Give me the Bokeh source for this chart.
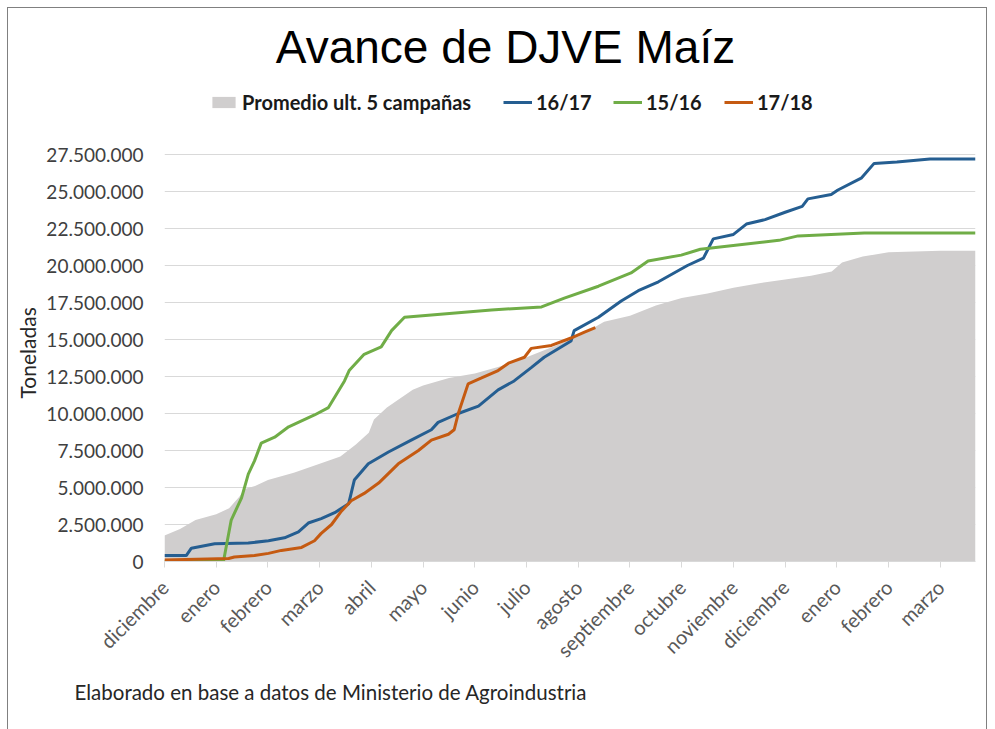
import math
from bokeh.plotting import figure
from bokeh.models import (FixedTicker, CustomJSTickFormatter, Label, Legend, LegendItem, Title)
from bokeh.embed import file_html
from bokeh.resources import INLINE

# ---------------- data ----------------
month_labels = ["diciembre", "enero", "febrero", "marzo", "abril", "mayo", "junio",
                "julio", "agosto", "septiembre", "octubre", "noviembre", "diciembre",
                "enero", "febrero", "marzo"]

# x = position in months since start of diciembre
prom_x = [0.0, 0.3, 0.6, 1.0, 1.25, 1.45, 1.55, 1.75, 2.0, 2.5, 3.0, 3.4, 3.7, 3.95,
          4.05, 4.3, 4.8, 5.0, 5.5, 6.0, 6.5, 7.0, 7.5, 8.0, 8.5, 9.0, 9.5, 10.0,
          10.5, 11.0, 11.5, 12.0, 12.5, 12.9, 13.1, 13.5, 14.0, 15.0, 15.68]
prom_y = [1.75, 2.2, 2.8, 3.2, 3.6, 4.4, 4.9, 5.1, 5.5, 6.0, 6.6, 7.1, 7.9, 8.7,
          9.6, 10.4, 11.6, 11.9, 12.4, 12.7, 13.2, 13.8, 14.5, 15.2, 16.2, 16.6, 17.3, 17.8,
          18.1, 18.5, 18.8, 19.05, 19.3, 19.6, 20.2, 20.6, 20.9, 21.0, 21.0]

c1617_x = [0.0, 0.42, 0.52, 0.97, 1.62, 2.01, 2.32, 2.59, 2.78, 3.03, 3.29, 3.56, 3.67,
           3.94, 4.33, 4.77, 5.16, 5.29, 5.68, 6.07, 6.45, 6.76, 7.09, 7.34, 7.86, 7.92,
           8.39, 8.83, 9.16, 9.55, 10.11, 10.42, 10.61, 11.0, 11.25, 11.61, 12.0, 12.33,
           12.44, 12.89, 13.02, 13.47, 13.72, 14.16, 14.8, 15.68]
c1617_y = [0.4, 0.4, 0.9, 1.2, 1.25, 1.4, 1.6, 2.0, 2.6, 2.9, 3.3, 3.9, 5.5,
           6.6, 7.4, 8.2, 8.9, 9.4, 10.0, 10.5, 11.6, 12.2, 13.1, 13.8, 14.9, 15.6,
           16.5, 17.6, 18.3, 18.9, 20.0, 20.5, 21.8, 22.1, 22.8, 23.1, 23.6, 24.0,
           24.5, 24.8, 25.1, 25.9, 26.9, 27.0, 27.2, 27.2]

c1516_x = [0.0, 1.14, 1.29, 1.49, 1.62, 1.74, 1.87, 2.13, 2.4, 2.9, 3.17, 3.29, 3.48,
           3.57, 3.86, 4.19, 4.39, 4.64, 6.32, 7.29, 7.73, 8.39, 9.02, 9.35, 9.99,
           10.36, 11.88, 12.25, 13.53, 15.68]
c1516_y = [0.0, 0.0, 2.8, 4.3, 5.9, 6.8, 8.0, 8.4, 9.1, 9.9, 10.4, 11.1, 12.2,
           12.9, 14.0, 14.5, 15.6, 16.5, 17.0, 17.2, 17.8, 18.6, 19.5, 20.3, 20.7,
           21.1, 21.7, 22.0, 22.2, 22.2]

c1718_x = [0.0, 1.24, 1.35, 1.74, 2.01, 2.26, 2.65, 2.9, 3.03, 3.23, 3.42, 3.61, 3.86,
           4.14, 4.52, 4.91, 5.16, 5.49, 5.6, 5.68, 5.87, 6.13, 6.45, 6.65, 6.96, 7.09,
           7.48, 7.86, 8.12, 8.33]
c1718_y = [0.1, 0.2, 0.3, 0.4, 0.55, 0.75, 0.95, 1.4, 1.9, 2.5, 3.4, 4.1, 4.6,
           5.3, 6.6, 7.5, 8.2, 8.6, 8.9, 10.0, 12.0, 12.4, 12.9, 13.4, 13.8, 14.4,
           14.6, 15.1, 15.5, 15.8]

M = 1_000_000
prom_y = [v * M for v in prom_y]
c1617_y = [v * M for v in c1617_y]
c1516_y = [v * M for v in c1516_y]
c1718_y = [v * M for v in c1718_y]

y_ticks = [i * 2_500_000 for i in range(12)]
y_max = 27_500_000

# ---------------- layout constants ----------------
W, H = 980, 724
FRAME_LEFT, FRAME_RIGHT_PAD = 155, 13
FRAME_H = 553                          # frame spans from canvas top down to the x axis
FRAME_BOTTOM_PAD = H - FRAME_H
TOP_GRID_PX = 146                      # pixel row (from top) of the 27.500.000 gridline
y_end = y_max * FRAME_H / (FRAME_H - TOP_GRID_PX)

FONT = "Lato"
p = figure(width=W, height=H, x_range=(0, 15.68), y_range=(0, y_end),
           output_backend="svg", toolbar_location=None, title=None,
           min_border_left=FRAME_LEFT, min_border_right=FRAME_RIGHT_PAD,
           min_border_top=0, min_border_bottom=FRAME_BOTTOM_PAD)
p.styles = {"border": "1px solid #808080", "margin": "7px 0 0 7px"}
p.outline_line_color = None
p.background_fill_color = "white"

grey = "#D0CECE"
blue = "#255E91"
green = "#70AD47"
orange = "#C55A11"

r_prom = p.varea(x=prom_x, y1=0, y2=prom_y, fill_color=grey)
r_1617 = p.line(c1617_x, c1617_y, line_color=blue, line_width=3)
r_1516 = p.line(c1516_x, c1516_y, line_color=green, line_width=3)
r_1718 = p.line(c1718_x, c1718_y, line_color=orange, line_width=3)

# axes
p.xaxis.ticker = FixedTicker(ticks=list(range(len(month_labels))))
p.xaxis.major_label_overrides = {i: lab for i, lab in enumerate(month_labels)}
p.xaxis.major_label_orientation = math.pi / 4
p.xaxis.major_label_text_font = FONT
p.xaxis.major_label_text_font_size = "20px"
p.xaxis.major_label_text_color = "#595959"
p.xaxis.major_label_standoff = 16
p.xaxis.axis_line_color = "#D9D9D9"
p.xaxis.major_tick_line_color = "#D9D9D9"
p.xaxis.major_tick_out = 6
p.xaxis.major_tick_in = 0
p.xaxis.minor_tick_line_color = None
p.xgrid.grid_line_color = None

p.yaxis.ticker = FixedTicker(ticks=y_ticks)
p.yaxis.formatter = CustomJSTickFormatter(
    code="return Math.round(tick).toString().replace(/\\B(?=(\\d{3})+(?!\\d))/g, '.');")
p.yaxis.major_label_text_font = FONT
p.yaxis.major_label_text_font_size = "19px"
p.yaxis.major_label_text_color = "#404040"
p.yaxis.axis_line_color = None
p.yaxis.major_tick_line_color = None
p.yaxis.minor_tick_line_color = None
p.yaxis.major_label_standoff = 15
p.ygrid.grid_line_color = "#D9D9D9"
p.ygrid.grid_line_width = 1

# y axis title, placed along the 0..27.500.000 part of the axis
p.add_layout(Title(text="Toneladas", align="left", offset=163, standoff=8,
                   text_font=FONT, text_font_size="21px", text_font_style="normal",
                   text_color="#262626"), "left")

# chart title (inside the extended frame)
p.add_layout(Label(x=341, y=FRAME_H - 38, x_units="screen", y_units="screen",
                   text="Avance de DJVE Maíz", text_align="center",
                   text_baseline="alphabetic", text_font="Liberation Sans",
                   text_font_size="46px", text_color="#000000"))

# footer
p.add_layout(Title(text="Elaborado en base a datos de Ministerio de Agroindustria",
                   align="left", offset=-90, standoff=11, text_font=FONT,
                   text_font_size="20.5px", text_font_style="normal",
                   text_color="#262626"), "below")

# legend (one box per item for precise placement)
leg_specs = [("Promedio ult. 5 campañas", r_prom, 45),
             ("16/17", r_1617, 339),
             ("15/16", r_1516, 449),
             ("17/18", r_1718, 560)]
for lab, rend, lx in leg_specs:
    lg = Legend(items=[LegendItem(label=lab, renderers=[rend])],
                location=(lx, FRAME_H - 106), orientation="horizontal",
                label_text_font=FONT, label_text_font_style="bold",
                label_text_font_size="20px", label_text_color="#1a1a1a",
                glyph_width=29, glyph_height=14, label_standoff=4,
                padding=0, margin=0, border_line_color=None,
                background_fill_alpha=0)
    p.add_layout(lg, "center")

open("out.html", "w").write(file_html(p, INLINE))
